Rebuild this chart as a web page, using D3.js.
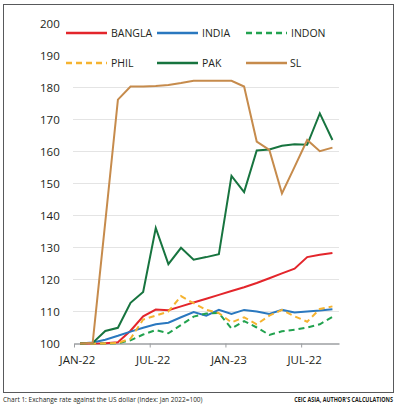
<!DOCTYPE html>
<html>
<head>
<meta charset="utf-8">
<style>
  body { margin: 0; background: #fff; }
  text { font-family: "Open Sans", sans-serif; fill: #231f20; }
</style>
</head>
<body>
<svg width="399" height="407"></svg>
<script src="https://d3js.org/d3.v7.min.js"></script>
<script>
// months since Jan 2022 (0 = Jan-22 ... 20 = Sep-23)
var months = d3.range(21);

var bangla = [100, 100, 100.1, 100.4, 104, 108.5, 110.6, 110.4, 111.6, 112.8, 114, 115.2, 116.4, 117.6, 118.9, 120.4, 121.9, 123.4, 127, 127.7, 128.3];
var india  = [100, 100.3, 101.2, 102.4, 103.7, 104.9, 106, 106.5, 108.2, 109.8, 108.7, 110.5, 109.2, 110.5, 110, 109.2, 110.5, 109.7, 110, 110.3, 110.7];
var indon  = [100, 100, 100, 100.1, 101, 102.8, 104.2, 103.2, 105.8, 108.4, 109.4, 109.5, 104.7, 107, 105, 102.7, 103.8, 104.3, 105, 106, 108.3];
var phil   = [100, 100, 100, 100.2, 101.5, 107.5, 108.7, 110, 114.8, 112.6, 110.5, 109.5, 106.6, 108.2, 106, 108.7, 110.5, 108.5, 106.8, 110.8, 111.6];
var pak    = [100, 100.2, 103.9, 104.9, 112.7, 116.1, 136.1, 124.8, 129.9, 126.2, 127, 127.9, 152.4, 147.3, 160.3, 160.6, 161.8, 162.3, 162.1, 171.9, 163.6];
var sl     = [100, 100.2, 138, 176.2, 180.3, 180.3, 180.5, 180.8, 181.4, 182.1, 182.1, 182.1, 182.1, 180.3, 163.1, 160.5, 146.9, 155.2, 163.6, 160.1, 161.2];

var yTicks = [100, 110, 120, 130, 140, 150, 160, 170, 180, 190, 200];
var gridTicks = [110, 120, 130, 140, 150, 160, 170, 180];
var xTickMonths = [0, 6, 12, 18];
var xTickLabels = ["JAN-22", "JUL-22", "JAN-23", "JUL-22"];

var series = [
  {name: "BANGLA", values: bangla, color: "#e3252b", dash: null},
  {name: "INDIA",  values: india,  color: "#2a78bf", dash: null},
  {name: "INDON",  values: indon,  color: "#22a24f", dash: "6,4"},
  {name: "PHIL",   values: phil,   color: "#f5b330", dash: "6,4"},
  {name: "PAK",    values: pak,    color: "#17743f", dash: null},
  {name: "SL",     values: sl,     color: "#c68b4c", dash: null}
];

var svg = d3.select("svg");

// frame
svg.append("rect")
  .attr("x", 3.5).attr("y", 4.5)
  .attr("width", 390).attr("height", 388)
  .attr("fill", "none").attr("stroke", "#58595b").attr("stroke-width", 1);

var x = d3.scaleLinear().domain([0, 21]).range([74, 339]);
var y = d3.scaleLinear().domain([100, 200]).range([343.5, 23.5]);

// grid
svg.append("g").selectAll("line")
  .data(gridTicks)
  .enter().append("line")
  .attr("x1", x(0) - 1).attr("x2", x(21))
  .attr("y1", function(d) { return y(d); })
  .attr("y2", function(d) { return y(d); })
  .attr("stroke", "#e4e4e4").attr("stroke-width", 1);

// y labels
svg.append("g").selectAll("text")
  .data(yTicks)
  .enter().append("text")
  .attr("x", 40)
  .attr("y", function(d) { return y(d); })
  .attr("dy", "0.35em")
  .style("font-size", "11.5px")
  .text(function(d) { return d; });

// x axis
var xAxis = d3.axisBottom(x)
  .tickValues(xTickMonths)
  .tickFormat(function(d, i) { return xTickLabels[i]; })
  .tickSize(4)
  .tickSizeOuter(0);

var gx = svg.append("g")
  .attr("transform", "translate(0," + y(100) + ")")
  .call(xAxis);
gx.select(".domain").attr("stroke", "#9d9fa2").attr("stroke-width", 1.3);
gx.selectAll(".tick line").attr("stroke", "#9d9fa2");
gx.selectAll(".tick text")
  .attr("dx", 3).attr("y", 12)
  .style("font-size", "11.5px")
  .style("font-family", "'Open Sans', sans-serif")
  .attr("fill", "#231f20");

// lines
var line = d3.line()
  .x(function(d, i) { return x(months[i] + 0.48); })
  .y(function(d) { return y(d); });

svg.append("g").selectAll("path")
  .data(series)
  .enter().append("path")
  .attr("fill", "none")
  .attr("stroke", function(d) { return d.color; })
  .attr("stroke-width", 2)
  .attr("stroke-dasharray", function(d) { return d.dash; })
  .attr("d", function(d) { return line(d.values); });

// legend
var legX = [66, 157, 246];
var legY = [33, 63];
var leg = svg.append("g").selectAll("g")
  .data(series)
  .enter().append("g")
  .attr("transform", function(d, i) { return "translate(" + legX[i % 3] + "," + legY[Math.floor(i / 3)] + ")"; });
leg.append("line")
  .attr("x1", 0).attr("x2", 41)
  .attr("stroke", function(d) { return d.color; })
  .attr("stroke-width", 2.6)
  .attr("stroke-dasharray", function(d) { return d.dash; });
leg.append("text")
  .attr("x", function(d, i) { return i == 5 ? 44 : 45; })
  .attr("dy", "0.35em")
  .style("font-size", "10.5px")
  .text(function(d) { return d.name; });

// captions, squeezed horizontally to the narrow widths of the original
function squeeze(sel, width) {
  var w = sel.node().getComputedTextLength();
  sel.attr("transform", sel.attr("transform") + " scale(" + Math.min(1, width / w) + ",1)");
}
var cap1 = svg.append("text")
  .attr("transform", "translate(3,402)")
  .style("font-size", "7.5px")
  .text("Chart 1: Exchange rate against the US dollar (Index: Jan 2022=100)");
squeeze(cap1, 200);
var cap2 = svg.append("text")
  .attr("transform", "translate(393,402)")
  .attr("text-anchor", "end")
  .style("font-size", "6.5px").style("font-weight", "bold")
  .text("CEIC ASIA, AUTHOR'S CALCULATIONS");
squeeze(cap2, 99);
</script>
</body>
</html>
